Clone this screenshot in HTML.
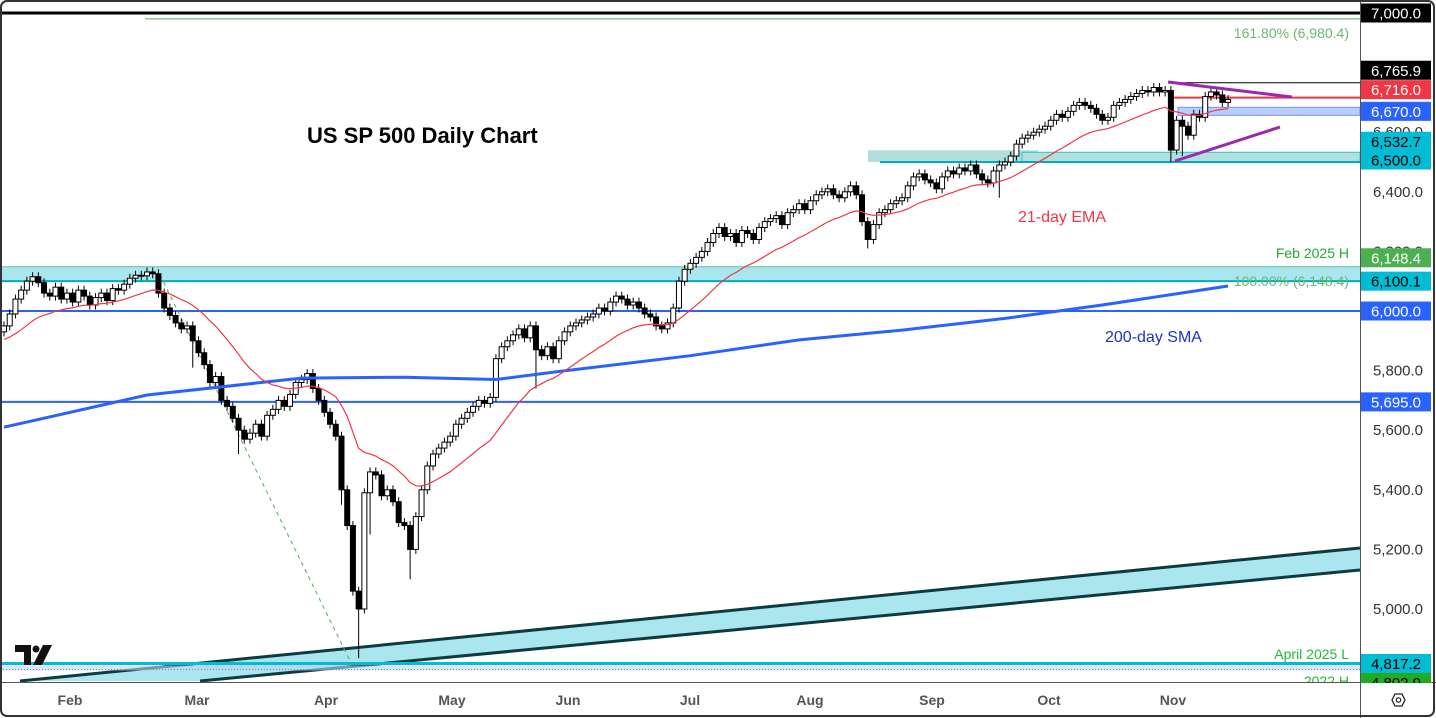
<!DOCTYPE html>
<html><head><meta charset="utf-8"><style>
html,body{margin:0;padding:0;background:#fff;}
svg{display:block;font-family:"Liberation Sans",sans-serif;}
</style></head><body>
<svg id="chart" width="1436" height="718" viewBox="0 0 1436 718" xmlns="http://www.w3.org/2000/svg">
<rect x="0" y="0" width="1436" height="718" fill="#fff"/>
<g id="bg"></g>
<g id="candles"></g>
<g id="over"></g>
<g id="axis"></g>
</svg>
<script>
const closes = [5950,5990,6040,6070,6100,6115,6095,6060,6050,6080,
6040,6060,6030,6070,6050,6020,6045,6060,6035,6075,
6070,6090,6110,6120,6118,6131,6125,6060,6010,5985,
5960,5940,5950,5900,5860,5820,5760,5780,5700,5680,
5640,5600,5570,5590,5620,5580,5650,5670,5700,5680,
5720,5760,5770,5790,5740,5700,5660,5620,5580,5400,
5280,5060,5000,5390,5460,5450,5380,5400,5360,5290,
5280,5200,5310,5400,5480,5520,5540,5560,5580,5620,
5640,5660,5680,5700,5690,5710,5840,5880,5900,5920,
5940,5910,5950,5870,5850,5880,5840,5900,5930,5950,
5960,5970,5980,5990,6010,6000,6030,6050,6040,6020,
6030,6010,5990,5980,5950,5940,5960,6010,6100,6140,
6160,6180,6200,6230,6260,6280,6250,6260,6230,6270,
6260,6240,6280,6300,6310,6320,6290,6330,6340,6360,
6340,6370,6390,6400,6410,6390,6380,6400,6420,6390,
6300,6240,6290,6330,6340,6360,6370,6380,6420,6450,
6460,6440,6430,6410,6450,6470,6460,6480,6470,6490,
6460,6440,6430,6470,6490,6500,6520,6560,6580,6590,
6600,6610,6620,6640,6660,6650,6670,6690,6700,6690,
6680,6660,6640,6650,6690,6700,6710,6720,6730,6740,
6735,6750,6735,6740,6540,6640,6620,6590,6660,6650,
6720,6735,6725,6700,6710];
const firstOpen = 5930;
const wickLowIdx = [33,41,59,62,64,71,93,151,174,204,206];
const wickLowVal = [5810,5520,5350,4835,5250,5100,5740,6210,6380,6500,6520];
const smaIdx = [0,25,52,70,86,97,120,139,157,175,192,214];
const smaVal = [5610,5718,5775,5778,5770,5797,5850,5903,5936,5975,6020,6084];
const emaSeed = 5900;
const yTicks = [6600,6400,6200,5800,5600,5400,5200,5000];
const months = ["Feb","Mar","Apr","May","Jun","Jul","Aug","Sep","Oct","Nov"];
const monthX = [70,197,326,452,568,690,810,932,1049,1173];

const NS="http://www.w3.org/2000/svg";
const Y=p=>13+(7000-p)*0.298;
const X=i=>4+i*5.72;
function mk(parent,tag,attrs,txt){const e=document.createElementNS(NS,tag);for(const k in attrs)e.setAttribute(k,attrs[k]);if(txt!==undefined)e.textContent=txt;document.getElementById(parent).appendChild(e);return e;}

let e;
e=mk('bg','rect',{x:0,y:Y(6148.4),width:1360,height:Y(6100.1)-Y(6148.4),fill:'#a9e6ee'});


mk('bg','line',{x1:0,x2:1360,y1:Y(6148.4),y2:Y(6148.4),stroke:'#66bb9a','stroke-width':1});
mk('bg','line',{x1:0,x2:1360,y1:Y(6100.1),y2:Y(6100.1),stroke:'#00acc1','stroke-width':2});
e=mk('bg','rect',{x:868,y:Y(6532.7)-2,width:170,height:Y(6500)-Y(6532.7)+2,fill:'#b2dfdb'});


mk('bg','rect',{x:1022,y:Y(6532.7),width:338,height:Y(6500)-Y(6532.7),fill:'#b2dfdb',stroke:'#26c6da','stroke-width':1});
mk('bg','line',{x1:880,x2:1360,y1:Y(6500),y2:Y(6500),stroke:'#00acc1','stroke-width':2});
e=mk('bg','rect',{x:1178,y:Y(6670)-4,width:182,height:8,fill:'#bbcdfb',stroke:'#6f93fb','stroke-width':1});


e=mk('bg','polygon',{points:'20,681 1360,548 1360,570 200,681',fill:'#a9e6ee'});


mk('bg','line',{x1:20,y1:681,x2:1360,y2:548,stroke:'#0d3b40','stroke-width':3});
mk('bg','line',{x1:200,y1:681,x2:1360,y2:570,stroke:'#0d3b40','stroke-width':3});
mk('bg','rect',{x:0,y:Y(4817.2)+2,width:1360,height:5,fill:'#c5cfff',opacity:0.6});
mk('bg','line',{x1:0,x2:1360,y1:Y(4817.2),y2:Y(4817.2),stroke:'#00bcd4','stroke-width':3});
mk('bg','line',{x1:0,x2:1360,y1:Y(4817.2)+6,y2:Y(4817.2)+6,stroke:'#4caf50','stroke-width':1,'stroke-dasharray':'1,2'});
mk('bg','line',{x1:0,x2:1360,y1:Y(7000),y2:Y(7000),stroke:'#000','stroke-width':3});
mk('bg','line',{x1:145,x2:1360,y1:Y(6980.4),y2:Y(6980.4),stroke:'#4caf50','stroke-width':1});
e=mk('bg','line',{x1:0,x2:1360,y1:Y(6000),y2:Y(6000),stroke:'#2962ff','stroke-width':2});


e=mk('bg','line',{x1:0,x2:1360,y1:Y(5695),y2:Y(5695),stroke:'#2962ff','stroke-width':2});


mk('bg','line',{x1:1168,x2:1360,y1:Y(6765.9),y2:Y(6765.9),stroke:'#000','stroke-width':1});
mk('bg','line',{x1:1168,x2:1360,y1:Y(6716),y2:Y(6716),stroke:'#f23645','stroke-width':2});
mk('bg','line',{x1:160,y1:275,x2:352,y2:665,stroke:'#4caf50','stroke-width':1,'stroke-dasharray':'4,4'});

let d='';
smaIdx.forEach((i,k)=>{d+=(k?'L':'M')+X(i).toFixed(1)+','+Y(smaVal[k]).toFixed(1);});
e=mk('over','path',{d:d,fill:'none',stroke:'#2962ff','stroke-width':3});



let prev=firstOpen;
closes.forEach((c,i)=>{
  const o=prev; prev=c;
  const hi=Math.max(o,c)+15;
  let lo=Math.min(o,c)-15;
  const w=wickLowIdx.indexOf(i); if(w>=0) lo=wickLowVal[w];
  const x=X(i);
  const wk=mk('candles','line',{x1:x,x2:x,y1:Y(hi),y2:Y(lo),stroke:'#000','stroke-width':1});
  
  
  const top=Y(Math.max(o,c)), bot=Y(Math.min(o,c));
  const b=mk('candles','rect',{x:x-2.5,y:top,width:5,height:Math.max(1,bot-top),fill:c<o?'#000':'#fff',stroke:'#000','stroke-width':1});
  
  
});

let ema=emaSeed; d='';
const k=2/22;
closes.forEach((c,i)=>{ema=c*k+ema*(1-k);d+=(i?'L':'M')+X(i).toFixed(1)+','+Y(ema).toFixed(1);});
e=mk('over','path',{d:d,fill:'none',stroke:'#f23645','stroke-width':1.2});



mk('over','line',{x1:1168,y1:82,x2:1292,y2:97,stroke:'#9c27b0','stroke-width':3});
mk('over','line',{x1:1175,y1:161,x2:1280,y2:127,stroke:'#9c27b0','stroke-width':3});

const T=(x,y,t,attrs,name)=>{const el=mk('over','text',Object.assign({x:x,y:y},attrs),t);return el;};
T(307,143,'US SP 500 Daily Chart',{'font-size':22,'font-weight':'bold',fill:'#000'},'chart-title');
T(1018,222,'21-day EMA',{'font-size':16,fill:'#f23645'},'ema-label');
T(1105,342,'200-day SMA',{'font-size':16,fill:'#1a33c9'},'sma-label');
T(1349,38,'161.80% (6,980.4)',{'font-size':14,fill:'#66bb6a','text-anchor':'end'},'fib-161-label');
T(1349,258,'Feb 2025 H',{'font-size':14,fill:'#22aa33','text-anchor':'end'},'feb-high-label');
T(1349,286,'100.00% (6,148.4)',{'font-size':14,fill:'#66bb6a','text-anchor':'end'},'fib-100-label');
T(1349,659,'April 2025 L',{'font-size':14,fill:'#22bb33','text-anchor':'end'},'april-low-label');
T(1349,686,'2022 H',{'font-size':14,fill:'#22bb33','text-anchor':'end'},'2022-high-label');
e=mk('over','g',{});


e.innerHTML='<path d="M15,645 h16 v20 h-7 v-13 h-9z" fill="#111"/><circle cx="36" cy="649" r="3.5" fill="#111"/><path d="M43,645 h9 l-10,20 h-9z" fill="#111"/>';

mk('axis','rect',{x:1361,y:0,width:75,height:718,fill:'#fff'});
mk('axis','rect',{x:0,y:682,width:1436,height:36,fill:'#fff'});
mk('axis','line',{x1:1360.5,x2:1360.5,y1:0,y2:718,stroke:'#555','stroke-width':1});
mk('axis','line',{x1:0,x2:1436,y1:682.5,y2:682.5,stroke:'#555','stroke-width':1});
yTicks.forEach(v=>{const t=mk('axis','text',{x:1398,y:Y(v)+5,'font-size':15,fill:'#333','text-anchor':'middle'},v.toLocaleString('en-US',{minimumFractionDigits:1}));});
const labels=[[7000,'#000','#fff'],[6765.9,'#000','#fff'],[6716,'#f23645','#fff'],[6670,'#2962ff','#fff'],[6532.7,'#00bcd4','#000'],[6500,'#00bcd4','#000'],[6148.4,'#4caf50','#fff'],[6100.1,'#00bcd4','#000'],[6000,'#2962ff','#fff'],[5695,'#2962ff','#fff'],[4817.2,'#00bcd4','#000'],[4802.9,'#22aa22','#000']];
const offs={7000:0,6765.9:-12.5,6716:-8,6670:0,6532.7:-11,6500:-2,6148.4:-9,6100.1:0};
labels.forEach(([v,bg,fg])=>{let cy=Y(v)+(offs[v]||0);
  if(v===4802.9)cy=Y(4817.2)+19;
  const r=mk('axis','rect',{x:1361,y:cy-9.5,width:70,height:19,fill:bg});
  const t=mk('axis','text',{x:1396,y:cy+5.5,'font-size':15,fill:fg,'text-anchor':'middle'},v.toLocaleString('en-US',{minimumFractionDigits:1}));});
mk('axis','rect',{x:1361,y:683,width:75,height:35,fill:'#fff'});
mk('axis','rect',{x:0,y:683,width:1360,height:35,fill:'#fff'});
mk('axis','line',{x1:1360.5,x2:1360.5,y1:682,y2:718,stroke:'#555'});
months.forEach((m,i)=>{const t=mk('axis','text',{x:monthX[i],y:705,'font-size':14,'font-weight':'bold',fill:'#555','text-anchor':'middle'},m);});
e=mk('axis','polygon',{points:'1392,700 1395,694 1402,694 1405,700 1402,706 1395,706',fill:'none',stroke:'#222','stroke-width':1.3});


mk('axis','circle',{cx:1398.5,cy:700,r:2.2,fill:'none',stroke:'#222','stroke-width':1.2});
e=mk('axis','rect',{x:1,y:1,width:1433,height:715,rx:6,fill:'none',stroke:'#333','stroke-width':2});


</script>
</body></html>
